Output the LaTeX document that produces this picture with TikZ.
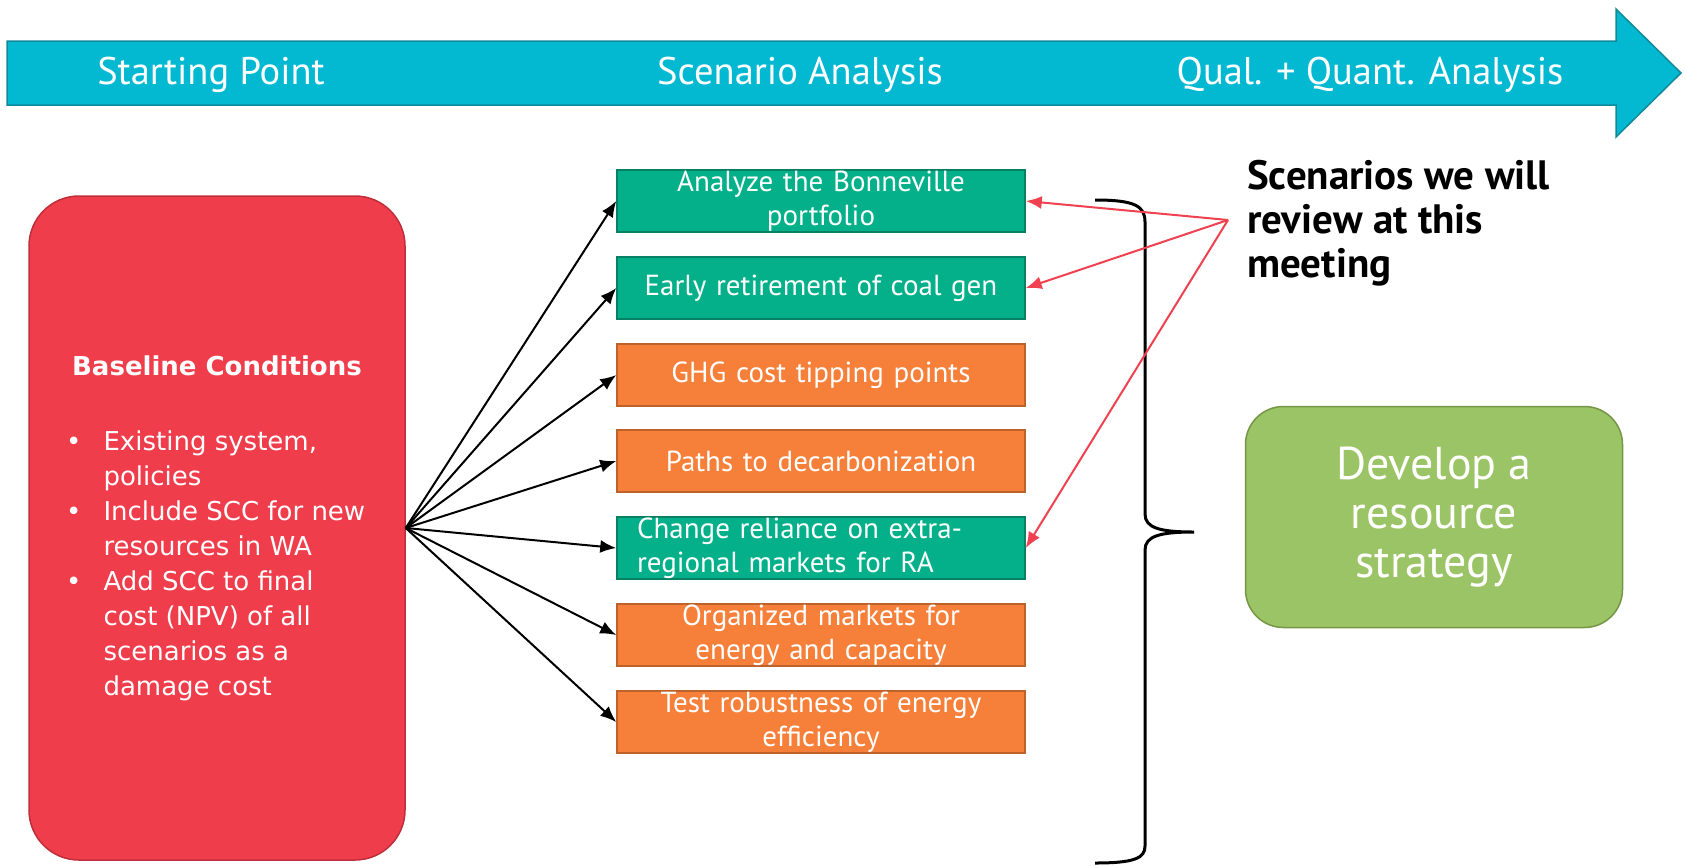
\documentclass[tikz,border=0pt]{standalone}
\usepackage{fontspec}
\setmainfont{PT Sans}
\newfontfamily\basefont{DejaVu Sans}
\usepackage{xcolor}
\usetikzlibrary{arrows.meta}

\definecolor{bannercol}{RGB}{3,185,210}
\definecolor{bannerline}{RGB}{16,138,154}
\definecolor{basered}{RGB}{240,61,75}
\definecolor{baseedge}{RGB}{190,47,58}
\definecolor{tealbox}{RGB}{4,176,137}
\definecolor{tealedge}{RGB}{8,128,100}
\definecolor{orangebox}{RGB}{246,128,58}
\definecolor{orangeedge}{RGB}{190,98,44}
\definecolor{leafbox}{RGB}{155,196,102}
\definecolor{leafedge}{RGB}{118,150,70}
\definecolor{pointred}{RGB}{240,65,80}

\tikzset{
  bannertext/.style={text=white, inner sep=0pt, font=\fontsize{38.5}{44}\selectfont},
  basebox/.style={draw=baseedge, fill=basered, line width=1.5pt, rounded corners=50pt,
    minimum width=376pt, minimum height=664pt, inner sep=0pt, text=white,
    font=\basefont\fontsize{26}{35}\selectfont},
  scenbox/.style={draw=#1edge, fill=#1box, line width=1.5pt, minimum width=408pt,
    minimum height=62pt, text width=368pt, inner sep=0pt, align=center, text=white,
    font=\fontsize{29}{34}\selectfont},
  leaf/.style={draw=leafedge, fill=leafbox, line width=1.5pt, rounded corners=38pt,
    minimum width=377pt, minimum height=221pt, inner sep=0pt, align=center, text=white,
    font=\fontsize{46}{49}\selectfont},
  notetext/.style={inner sep=0pt, align=left, anchor=west, font=\bfseries\fontsize{41}{44}\selectfont},
  blackarrow/.style={line width=2pt, -{Latex[length=16pt,width=13pt]}},
  redarrow/.style={pointred, line width=2pt, -{Latex[length=16pt,width=13pt]}},
}

\begin{document}
\begin{tikzpicture}[x=1pt, y=-1pt]
  \useasboundingbox (0,0) rectangle (1686,865);

  % timeline
  \draw[fill=bannercol, draw=bannerline, line width=1.5pt]
    (7,41) -- (1616,41) -- (1616,9) -- (1681,73) -- (1616,137) -- (1616,105) -- (7,105) -- cycle;
  \node[bannertext] (start) at (211,75) {Starting Point};
  \node[bannertext] (scenario) at (800,75) {Scenario Analysis};
  \node[bannertext] (qualquant) at (1370,75) {Qual. + Quant. Analysis};

  \node[basebox] (base) at (217,528) {%
    \begin{tabular}{@{}l@{\hspace{22pt}}l@{}}
      \multicolumn{2}{c}{\bfseries Baseline Conditions}\\[40pt]
      \textbullet & Existing system,\\
                  & policies\\
      \textbullet & Include SCC for new\\
                  & resources in WA\\
      \textbullet & Add SCC to final\\
                  & cost (NPV) of all\\
                  & scenarios as a\\
                  & damage cost
    \end{tabular}};

  \node[scenbox=teal] (s1) at (821,201) {Analyze the Bonneville\\portfolio};
  \node[scenbox=teal] (s2) at (821,288) {Early retirement of coal gen};
  \node[scenbox=orange] (s3) at (821,375) {GHG cost tipping points};
  \node[scenbox=orange] (s4) at (821,461) {Paths to decarbonization};
  \node[scenbox=teal, align=left] (s5) at (821,548) {Change reliance on extra-\\regional markets for RA};
  \node[scenbox=orange] (s6) at (821,635) {Organized markets for\\energy and capacity};
  \node[scenbox=orange] (s7) at (821,722) {Test robustness of energy\\efficiency};

  \foreach \i in {1,...,7}
    \draw[blackarrow] (base.east) -- (s\i.west);

  % brace
  \draw[line width=3pt]
    (1095,200) .. controls (1135,200) and (1145,206) .. (1145,222) -- (1145,514)
    .. controls (1145,528) and (1160,532) .. (1194,532)
    .. controls (1160,532) and (1145,536) .. (1145,550) -- (1145,846)
    .. controls (1145,858) and (1135,863) .. (1095,863);

  \node[notetext] (note) at (1247,223) {Scenarios we will\\review at this\\meeting};
  \coordinate (meet) at (1228,220);
  \foreach \i in {1,2,5}
    \draw[redarrow] (meet) -- (s\i.east);

  \node[leaf] (develop) at (1434,517) {Develop a\\resource\\strategy};
\end{tikzpicture}
\end{document}
